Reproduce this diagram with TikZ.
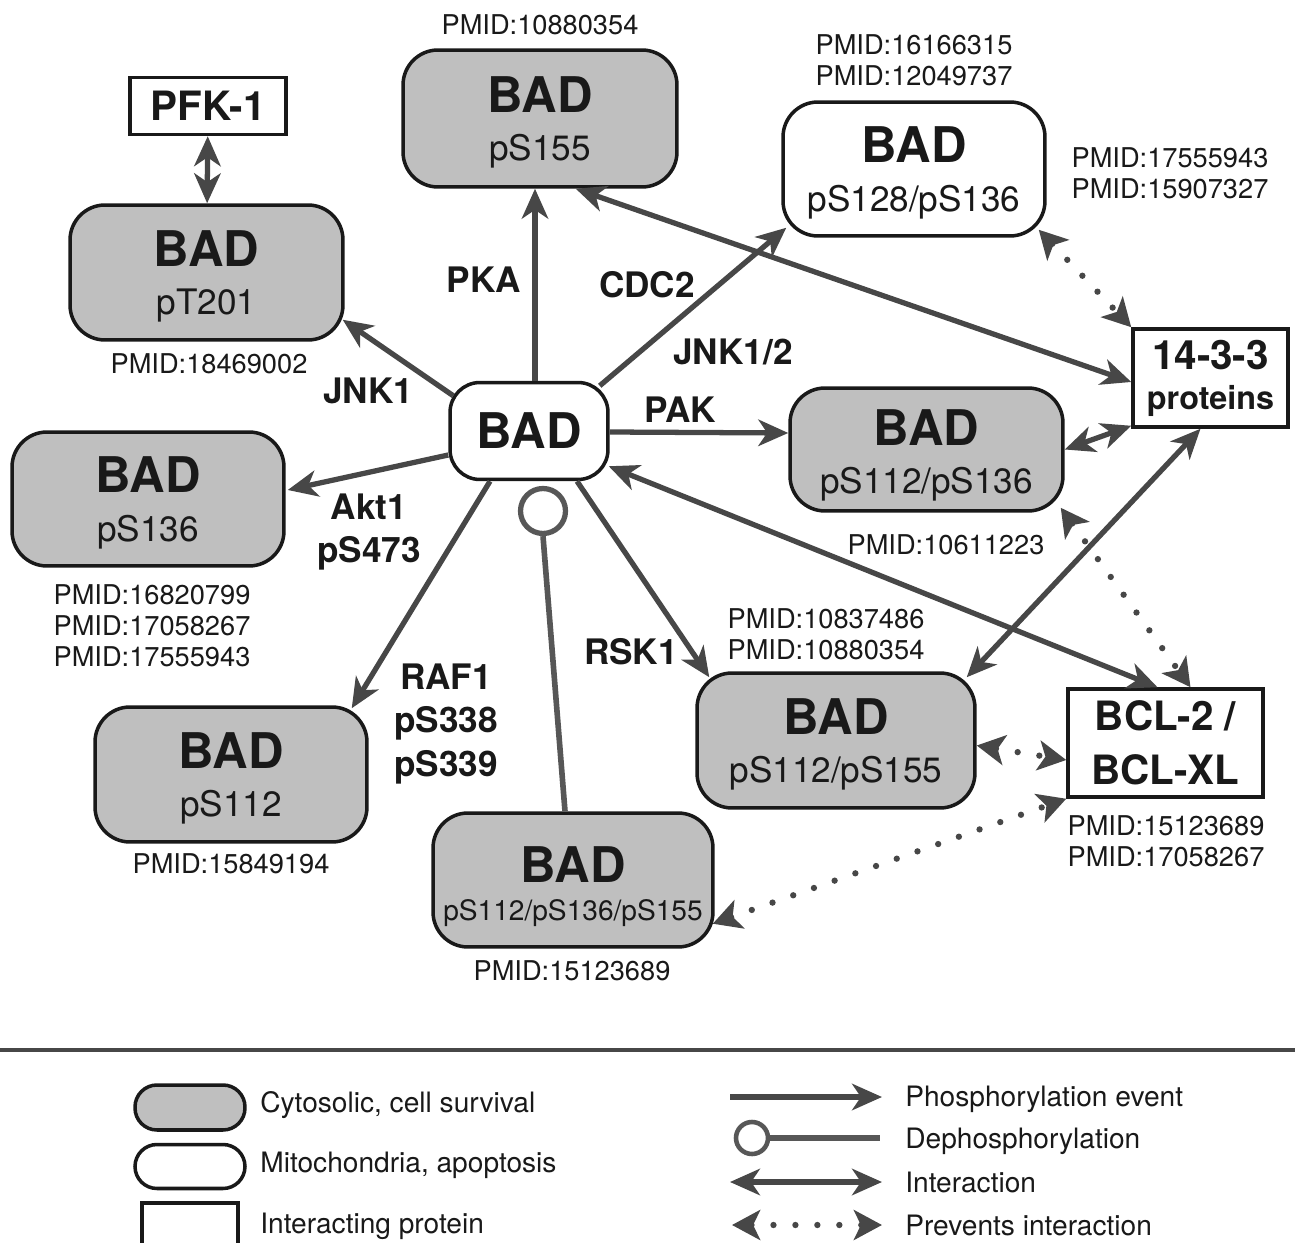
\documentclass[tikz,border=0pt]{standalone}
\usepackage{fontspec}
\setmainfont{TeX Gyre Heros}
\usetikzlibrary{arrows.meta,calc}

\newcommand{\badtitle}[1][25pt]{\rule{0pt}{#1}{\fontsize{28}{27.5}\selectfont\bfseries BAD}}

\begin{document}
\begin{tikzpicture}[x=0.02cm, y=-0.02cm,
        >={Stealth[length=17pt,width=15pt,inset=5pt]},
        cyto/.style={rectangle, draw=black!90, fill=black!25, line width=2pt, rounded corners=0.7cm,
                     minimum width=5.46cm, minimum height=2.7cm, align=center, inner sep=0pt,
                     text=black!90, font=\fontsize{20}{27.5}\selectfont},
        mito/.style={cyto, fill=white},
        prot/.style={rectangle, draw=black!90, fill=white, line width=2pt, align=center, inner sep=0pt,
                     text=black!90, font=\bfseries\fontsize{23}{31}\selectfont},
        kin/.style={align=center, inner sep=0pt, text=black!90, font=\bfseries\fontsize{20}{24.5}\selectfont},
        ref/.style={align=center, inner sep=0pt, text=black!90, font=\fontsize{15.5}{17.5}\selectfont},
        leg/.style={anchor=base west, inner sep=0pt, text=black!90, font=\fontsize{16}{19}\selectfont},
        phos/.style={draw=black!72, line width=3pt, ->},
        inter/.style={draw=black!72, line width=3pt, <->},
        prev/.style={draw=black!72, line width=3.6pt, line cap=round, dash pattern=on 0pt off 12.5pt,
                     {Stealth[length=16pt,width=17pt,inset=4pt]}-{Stealth[length=16pt,width=17pt,inset=4pt]}},
        dephos/.style={draw=black!66, line width=3.2pt}
    ]
    \useasboundingbox (0,0) rectangle (1295,1243);

    % BAD forms
    \node[mito, minimum width=3.16cm, minimum height=1.94cm, rounded corners=0.6cm,
          font=\bfseries\fontsize{28}{30}\selectfont] (bad) at (529,431) {BAD};
    \node[cyto] (t201) at (206.5,272.5) {\badtitle\\pT201};
    \node[cyto, minimum width=5.48cm, minimum height=2.74cm] (s155) at (540,118.5) {\badtitle\\pS155};
    \node[mito, minimum width=5.24cm, minimum height=2.68cm] (s128) at (914,169) {\badtitle\\pS128/pS136};
    \node[cyto, minimum height=2.46cm] (s112136) at (926.5,449.5) {\badtitle[27pt]\\pS112/pS136};
    \node[cyto, minimum width=5.44cm, minimum height=2.68cm] (s136) at (148,499) {\badtitle\\pS136};
    \node[cyto, minimum width=5.44cm] (s112) at (231,774.5) {\badtitle\\pS112};
    \node[cyto, minimum width=5.56cm] (s112155) at (836,740.5) {\badtitle\\pS112/pS155};
    \node[cyto, minimum width=5.6cm, minimum height=2.68cm, font=\fontsize{16}{21.7}\selectfont]
          (s3) at (573,880) {\badtitle[28.3pt]\\pS112/pS136/pS155};

    % partners
    \node[prot, minimum width=3.12cm, minimum height=1.14cm] (pfk) at (208,106) {PFK-1};
    \node[prot, minimum width=3.1cm, minimum height=1.96cm, font=\bfseries\fontsize{23}{22.7}\selectfont]
          (p1433) at (1210.5,378) {14-3-3\\{\fontsize{18.4}{22.7}\selectfont proteins}};
    \node[prot, minimum width=3.9cm, minimum height=2.16cm] (bcl) at (1165.5,743) {BCL-2 /\\BCL-XL};

    \node[circle, draw=black!66, line width=3pt, minimum size=0.9cm, inner sep=0pt] (dp) at (543,511) {};

    % kinases
    \node[kin] (pka) at (484,280) {PKA};
    \node[kin] (cdc2) at (647,285) {CDC2};
    \node[kin] (jnk12) at (733,352) {JNK1/2};
    \node[kin] (pak) at (680,410) {PAK};
    \node[kin] (jnk1) at (368,391) {JNK1};
    \node[kin] (akt) at (369,532) {Akt1\\pS473};
    \node[kin] (raf) at (446,724) {RAF1\\pS338\\pS339};
    \node[kin] (rsk) at (631,652) {RSK1};

    % references
    \node[ref] (r155) at (540,25) {PMID:10880354};
    \node[ref] (r128) at (914,60) {PMID:16166315\\PMID:12049737};
    \node[ref] (r1433) at (1170,173) {PMID:17555943\\PMID:15907327};
    \node[ref] (r201) at (209,364) {PMID:18469002};
    \node[ref] (r112136) at (946,545) {PMID:10611223};
    \node[ref] (r136) at (152,626) {PMID:16820799\\PMID:17058267\\PMID:17555943};
    \node[ref] (r112155) at (826,634) {PMID:10837486\\PMID:10880354};
    \node[ref] (rbcl) at (1166,841) {PMID:15123689\\PMID:17058267};
    \node[ref] (r112) at (231,864) {PMID:15849194};
    \node[ref] (r3) at (572,971) {PMID:15123689};

    % phosphorylation
    \draw[phos] ($(bad.north west)+(5,15)$) -- ($(t201.south east)+(-2,-22)$);
    \draw[phos] ($(bad.north)+(6,0)$) -- ($(s155.south)+(-5,0)$);
    \draw[phos] ($(bad.north east)+(-10,5)$) -- ($(s128.south west)+(5,-10)$);
    \draw[phos] ($(bad.east)+(0,1)$) -- ($(s112136.west)+(0,-16.5)$);
    \draw[phos] ($(bad.west)+(0,24)$) -- ($(s136.east)+(2,-9)$);
    \draw[phos] ($(bad.south)+(-39,0)$) -- ($(s112.north east)+(-17,3)$);
    \draw[phos] ($(bad.south)+(48,0)$) -- ($(s112155.north west)+(14,6)$);
    \draw[dephos] (dp.south) -- ($(s3.north)+(-8,0)$);

    % interactions
    \draw[inter] (pfk) -- (t201);
    \draw[inter] ($(s155.south east)+(-103,0)$) -- ($(p1433.west)+(0,4)$);
    \draw[inter] (s112136.east) -- ($(p1433.south west)+(0,-3)$);
    \draw[inter] ($(p1433.south)+(-10,0)$) -- ($(s112155.north east)+(-10,6)$);
    \draw[inter] ($(bad.south east)+(-1,-15)$) -- ($(bcl.north)+(-8,0)$);
    \draw[prev] ($(s128.south east)+(-8,-8)$) -- (p1433.north west);
    \draw[prev] ($(s112136.south east)+(-4,-5)$) -- ($(bcl.north)+(25,0)$);
    \draw[prev] ($(s112155.east)+(0,5)$) -- ($(bcl.west)+(0,17)$);
    \draw[prev] ($(s3.south east)+(-2,-25)$) -- (bcl.south west);

    % legend
    \draw[black!72, line width=1.8pt] (0,1050) -- (1295,1050);
    \node[cyto, minimum width=2.2cm, minimum height=0.9cm, rounded corners=0.44cm] (lgcyto) at (190,1107.5) {};
    \node[mito, minimum width=2.2cm, minimum height=0.88cm, rounded corners=0.44cm] (lgmito) at (190,1166.5) {};
    \node[prot, minimum width=1.92cm, minimum height=0.96cm] (lgprot) at (190,1227) {};
    \node[leg] (tcyto) at (260,1112) {Cytosolic, cell survival};
    \node[leg] (tmito) at (260,1172) {Mitochondria, apoptosis};
    \node[leg] (tprot) at (260,1233) {Interacting protein};

    \coordinate (a1) at (730,1097);
    \coordinate (b1) at (882,1097);
    \node[circle, draw=black!66, line width=2.6pt, minimum size=0.64cm, inner sep=0pt] (lgdp) at (752,1138) {};
    \coordinate (b2) at (880,1138);
    \coordinate (a3) at (730,1182);
    \coordinate (b3) at (882,1182);
    \coordinate (a4) at (732,1225);
    \coordinate (b4) at (882,1225);
    \draw[phos] (a1) -- (b1);
    \draw[dephos] (lgdp.east) -- (b2);
    \draw[inter] (a3) -- (b3);
    \draw[prev] (a4) -- (b4);
    \node[leg] (tphos) at (905,1106) {Phosphorylation event};
    \node[leg] (tdeph) at (905,1148) {Dephosphorylation};
    \node[leg] (tint) at (905,1192) {Interaction};
    \node[leg] (tprev) at (905,1235) {Prevents interaction};
\end{tikzpicture}
\end{document}
